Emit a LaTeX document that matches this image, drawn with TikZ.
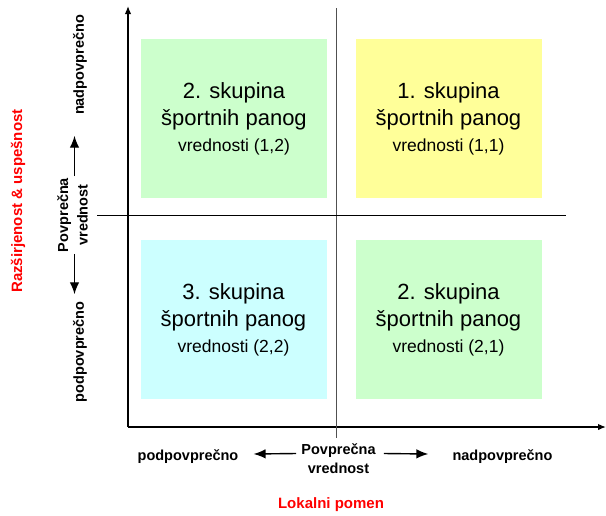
\documentclass[tikz,border=0pt]{standalone}
\usepackage{fontspec}
\setmainfont{Liberation Sans}
\usetikzlibrary{arrows.meta}
\definecolor{cgreen}{HTML}{CCFFCC}
\definecolor{cyellow}{HTML}{FFFF99}
\definecolor{ccyan}{HTML}{CCFFFF}
\definecolor{cred}{HTML}{FF0000}
\definecolor{cmid}{HTML}{505050}
\tikzset{
  axisline/.style={line width=1.4pt, -{Latex[length=8pt,width=6.5pt]}},
  midline/.style={line width=1pt},
  labarrow/.style={line width=1.4pt, -{Latex[length=12pt,width=9.5pt]}},
  quad/.style={minimum width=186pt, minimum height=159pt, inner sep=0pt, align=center,
    font=\fontsize{22}{27}\selectfont},
  lab/.style={font=\fontsize{14.5}{19.5}\selectfont\bfseries, inner sep=0pt, align=center},
  title/.style={font=\fontsize{15}{18}\selectfont\bfseries, text=cred, inner sep=0pt},
}
\newcommand{\qtext}[2]{#1. skupina\\športnih panog\\[-1pt]{\fontsize{17.5}{21}\selectfont vrednosti (#2)}}
\begin{document}
\begin{tikzpicture}[x=1pt,y=-1pt]
\useasboundingbox[fill=white] (0,0) rectangle (606,515);
% quadrant boxes
\node[quad, fill=cgreen] (q12) at (234,118.5) {\qtext{2}{1,2}};
\node[quad, fill=cyellow] (q11) at (448.5,118.5) {\qtext{1}{1,1}};
\node[quad, fill=ccyan] (q22) at (233.5,319.5) {\qtext{3}{2,2}};
\node[quad, fill=cgreen] (q21) at (448.5,319.5) {\qtext{2}{2,1}};
% axes
\coordinate (O) at (128,427);
\coordinate (ytop) at (128,6);
\coordinate (xend) at (606,427);
\draw[axisline] (O) -- (ytop);
\draw[axisline] (O) -- (xend);
% middle lines
\coordinate (vt) at (336,8);
\coordinate (vb) at (336,438);
\coordinate (hl) at (97,215);
\coordinate (hr) at (566,215);
\draw[midline, cmid] (vt) -- (vb);
\draw[midline] (hl) -- (hr);
% bottom labels
\node[lab] (podB) at (188,457) {podpovprečno};
\node[lab] (nadB) at (502.5,457) {nadpovprečno};
\node[lab] (pvB) at (338.5,458.5) {Povprečna\\vrednost};
\draw[labarrow] ([xshift=-5pt,yshift=5pt]pvB.west) -- ([xshift=15pt,yshift=3pt]podB.east);
\draw[labarrow] ([xshift=8pt,yshift=5pt]pvB.east) -- ([xshift=-24pt,yshift=3pt]nadB.west);
\node[title] (xt) at (331,505) {Lokalni pomen};
% left labels
\node[lab, rotate=90] (nadL) at (80,65) {nadpovprečno};
\node[lab, rotate=90] (podL) at (80,352) {podpovprečno};
\node[lab, rotate=90] (pvL) at (72.5,215) {Povprečna\\vrednost};
\draw[labarrow] ([xshift=2pt,yshift=1.5pt]pvL.east) -- ([xshift=2pt,yshift=42pt]pvL.east);
\draw[labarrow] ([xshift=2pt,yshift=-1.5pt]pvL.west) -- ([xshift=2pt,yshift=-42pt]pvL.west);
\node[title, rotate=90] (yt) at (18,201) {Razširjenost \& uspešnost};
\end{tikzpicture}
\end{document}
